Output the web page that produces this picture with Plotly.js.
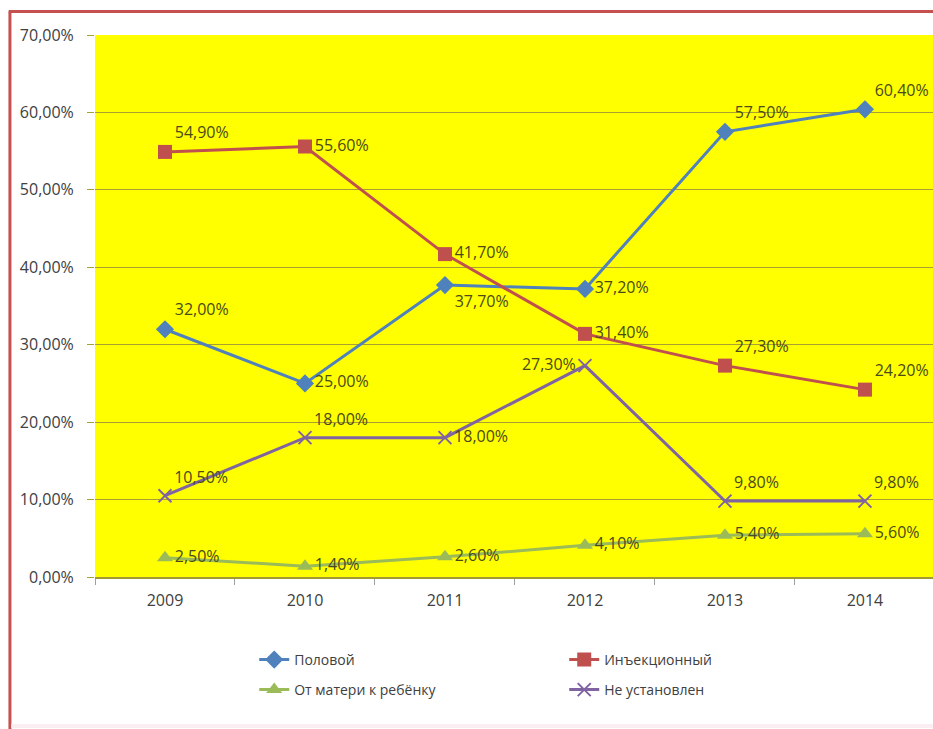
<!DOCTYPE html>
<html><head><meta charset="utf-8">
<script src="https://cdn.plot.ly/plotly-3.0.1.min.js"></script>
<style>
html,body{margin:0;padding:0;overflow:hidden;background:#fff;}
#chart{width:933px;height:729px;}
</style></head>
<body>
<div id="chart"></div>
<script>
var years = ['2009','2010','2011','2012','2013','2014'];
var seriesNames = ['Половой','Инъекционный','От матери к ребёнку','Не установлен'];
var polovoy = [32.0, 25.0, 37.7, 37.2, 57.5, 60.4];
var inject = [54.9, 55.6, 41.7, 31.4, 27.3, 24.2];
var mother = [2.5, 1.4, 2.6, 4.1, 5.4, 5.6];
var unknown = [10.5, 18.0, 18.0, 27.3, 9.8, 9.8];
var yTicks = [0,10,20,30,40,50,60,70];

function fmt(v){ return v.toFixed(2).replace('.', ',') + '%'; }

var labelFont = {family:'Open Sans, sans-serif', size:16, color:'#4a4a1a'};
function mk(name, vals, color, symbol, size, pos, legendId){
  return {
    type:'scatter', mode:'lines+markers+text', name:name, legend:legendId,
    x: years, y: vals,
    text: vals.map(fmt), textposition: pos, textfont: labelFont,
    line:{color:color, width:3},
    marker:{color:color, symbol:symbol, size:size, line:{width: symbol==='x-thin' ? 2 : 0, color:color}},
    cliponaxis:false, hoverinfo:'x+y'
  };
}

var data = [
  mk(seriesNames[0], polovoy, '#4f81bd', 'diamond', 14,
     ['top right','middle right','bottom right','middle right','top right','top right'], 'legend'),
  mk(seriesNames[1], inject, '#c0504d', 'square', 14,
     ['top right','middle right','middle right','middle right','top right','top right'], 'legend'),
  mk(seriesNames[2], mother, '#9bbb59', 'triangle-up', 14,
     ['middle right','middle right','middle right','middle right','middle right','middle right'], 'legend2'),
  mk(seriesNames[3], unknown, '#8064a2', 'x-thin', 13,
     ['top right','top right','middle right','middle left','top right','top right'], 'legend2')
];

var frameColor = '#c4504f';
var legendBase = {
  orientation:'h', x:0.19, xanchor:'left', yanchor:'middle',
  entrywidth:265, traceorder:'normal',
  font:{family:'Open Sans, sans-serif', size:14, color:'#404040'},
  bgcolor:'rgba(0,0,0,0)'
};

var layout = {
  width:933, height:729,
  margin:{l:95, r:0, t:35, b:152},
  paper_bgcolor:'#ffffff', plot_bgcolor:'#ffff00',
  separators:', ',
  showlegend:true,
  font:{family:'Open Sans, sans-serif', size:14, color:'#404040'},
  xaxis:{
    type:'category', range:[-0.5, 5.486],
    showgrid:false, showline:true, linecolor:'#a09a30', linewidth:1.5,
    ticks:'outside', tickson:'boundaries', ticklen:6, tickcolor:'#a0a0a0',
    ticklabelstandoff:8,
    tickfont:{family:'Open Sans, sans-serif', size:16, color:'#404040'},
    zeroline:false
  },
  yaxis:{
    range:[0,70], tickmode:'array', tickvals:yTicks, ticktext:yTicks.map(fmt),
    showgrid:true, gridcolor:'#a8a030', gridwidth:1,
    ticks:'outside', ticklen:7, tickcolor:'#a8a030',
    ticklabelstandoff:10,
    tickfont:{family:'Open Sans, sans-serif', size:16, color:'#404040'},
    zeroline:false, showline:false
  },
  legend: Object.assign({}, legendBase, {y:-0.153}),
  legend2: Object.assign({}, legendBase, {y:-0.2085}),
  shapes:[
    {type:'line', xref:'paper', yref:'paper', x0:-0.1015, x1:-0.1015, y0:1.0434, y1:-0.29,
     line:{color:frameColor, width:3}, layer:'above'},
    {type:'line', xref:'paper', yref:'paper', x0:-0.103, x1:1.02, y0:1.0434, y1:1.0434,
     line:{color:frameColor, width:3}, layer:'above'},
    {type:'line', xref:'paper', yref:'paper', x0:-0.1, x1:1.02, y0:-0.2749, y1:-0.2749,
     line:{color:'#fbeef3', width:4}, layer:'above'}
  ]
};

Plotly.newPlot('chart', data, layout, {displayModeBar:false, staticPlot:true});
</script>
</body></html>
